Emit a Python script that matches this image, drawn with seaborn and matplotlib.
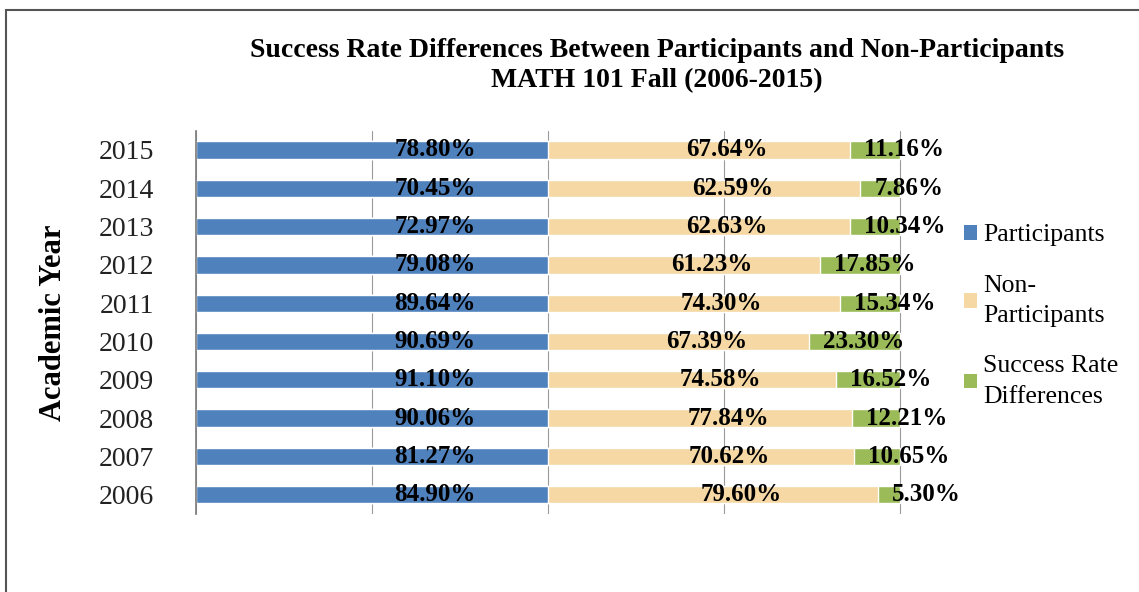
import numpy as np
import pandas as pd
import matplotlib
matplotlib.use("Agg")
import matplotlib.pyplot as plt
from matplotlib.patches import Rectangle, Patch
import seaborn as sns

years = ["2015", "2014", "2013", "2012", "2011", "2010", "2009", "2008", "2007", "2006"]
participants = [78.80, 70.45, 72.97, 79.08, 89.64, 90.69, 91.10, 90.06, 81.27, 84.90]
non_participants = [67.64, 62.59, 62.63, 61.23, 74.30, 67.39, 74.58, 77.84, 70.62, 79.60]
differences = [11.16, 7.86, 10.34, 17.85, 15.34, 23.30, 16.52, 12.21, 10.65, 5.30]
series_names = ["Participants", "Non-\nParticipants", "Success Rate\nDifferences"]
colors = ["#4F81BD", "#F6D8A4", "#9BBB59"]

sns.set_theme(style="white")
plt.rcParams["font.family"] = ["Liberation Serif", "DejaVu Serif"]
plt.rcParams["text.color"] = "black"
plt.rcParams["axes.labelcolor"] = "black"
plt.rcParams["ytick.color"] = "#222222"

df = pd.DataFrame({"year": years, "p": participants, "n": non_participants, "d": differences})
tot = df["p"] + df["n"] + df["d"]
df["c1"] = df["p"] / tot
df["c2"] = (df["p"] + df["n"]) / tot
df["c3"] = 1.0

fig = plt.figure(figsize=(11.39, 5.92), dpi=100)
ax = fig.add_axes([0.172, 0.132, 0.655, 0.647])

for col, c in zip(["c3", "c2", "c1"], colors[::-1]):
    sns.barplot(data=df, y="year", x=col, color=c, orient="h", width=0.45,
                order=years, ax=ax, saturation=1)

for i, row in df.iterrows():
    ax.text(row["c1"] * 0.68, i, f"{row['p']:.2f}%", ha="center", va="center",
            fontsize=18, fontweight="bold", color="black")
    ax.text((row["c1"] + row["c2"]) / 2 + 0.04, i, f"{row['n']:.2f}%", ha="center", va="center",
            fontsize=18, fontweight="bold", color="black")
    ax.text(row["c2"] + 0.02, i, f"{row['d']:.2f}%", ha="left", va="center",
            fontsize=18, fontweight="bold", color="black")

ax.set_xlim(0, 1.06)
ax.set_xticks([0, 0.25, 0.5, 0.75, 1.0])
ax.set_xticklabels([])
ax.xaxis.grid(True, color="#9a9a9a", linewidth=0.8)
ax.set_axisbelow(True)
ax.set_xlabel("")
ax.set_ylabel("Academic Year", fontsize=22, fontweight="bold", labelpad=22)
ax.tick_params(axis="y", labelsize=20, length=0, pad=30)
for s in ["top", "right", "bottom"]:
    ax.spines[s].set_visible(False)
ax.spines["left"].set_color("#7f7f7f")

fig.text(0.577, 0.889, "Success Rate Differences Between Participants and Non-Participants\nMATH 101 Fall (2006-2015)",
         ha="center", va="center", fontsize=20, fontweight="bold", linespacing=1.3)

handles = [Patch(facecolor=c, edgecolor="none") for c in colors]
leg = fig.legend(handles, series_names, loc="upper left", bbox_to_anchor=(0.826, 0.66),
                 frameon=False, fontsize=18.5, handlelength=0.5, handleheight=0.5,
                 handletextpad=0.25, labelspacing=1.1)
for t in leg.get_texts():
    t.set_linespacing(1.5)

fig.patches.append(Rectangle((0.005, -0.1), 1.2, 1.083, transform=fig.transFigure,
                             fill=False, edgecolor="#555555", linewidth=1.5))

fig.savefig("out.png", dpi=100)
